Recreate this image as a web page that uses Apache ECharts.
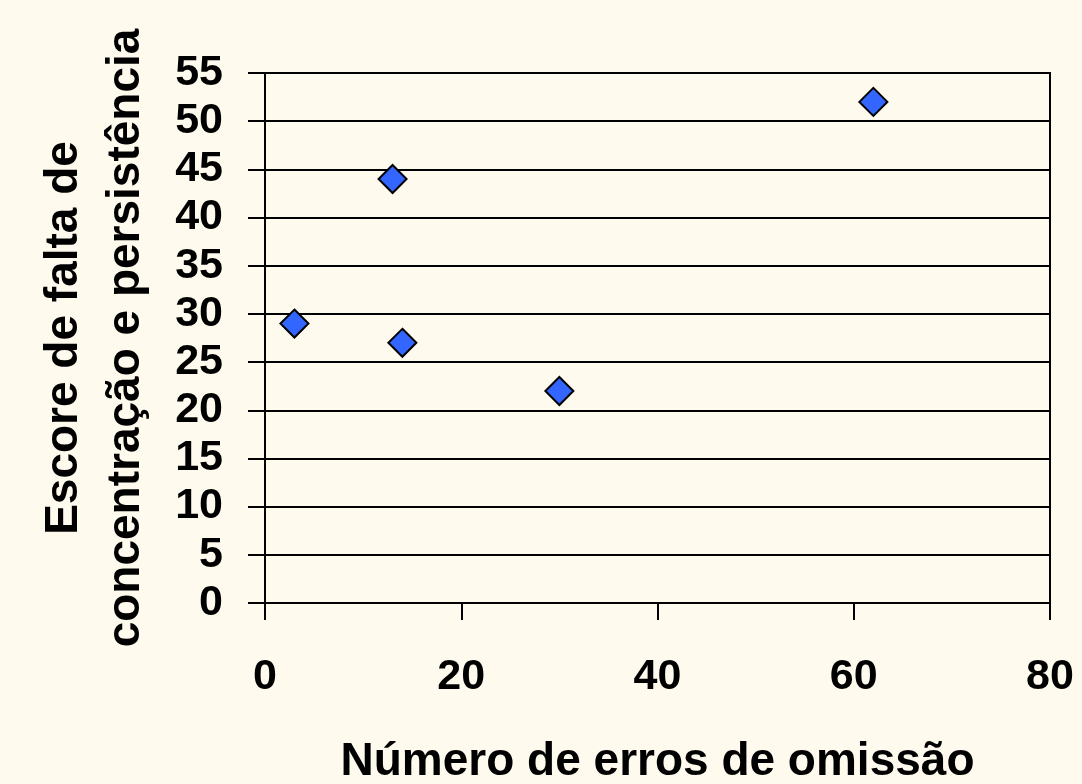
<!DOCTYPE html>
<html><head><meta charset="utf-8">
<script src="https://cdn.jsdelivr.net/npm/echarts@6/dist/echarts.min.js"></script>
<style>html,body{margin:0;padding:0;background:#FFFAEE;}#c{width:1082px;height:784px;}</style>
</head><body><div id="c"></div>
<script>
const xValues = [3, 13, 14, 30, 62];
const yValues = [29, 44, 27, 22, 52];
const xTitle = 'Número de erros de omissão';
const yTitle = 'Escore de falta de\nconcentração e persistência';

const chart = echarts.init(document.getElementById('c'));
const font = 'Liberation Sans, Arial, sans-serif';
chart.setOption({
  backgroundColor: '#FFFAEE',
  animation: false,
  grid: {left: 265, right: 32, top: 73, bottom: 181, containLabel: false, outerBoundsMode: 'none', show: true, borderColor: '#000', borderWidth: 2, backgroundColor: 'transparent'},
  xAxis: {
    type: 'value', min: 0, max: 80, interval: 20,
    name: xTitle, nameLocation: 'middle', nameGap: 136,
    nameTextStyle: {fontFamily: font, fontWeight: 'bold', fontSize: 46, color: '#000'},
    axisLine: {show: true, lineStyle: {color: '#000', width: 2}},
    axisTick: {show: true, inside: false, length: 17, lineStyle: {color: '#000', width: 2}},
    axisLabel: {fontFamily: font, fontWeight: 'bold', fontSize: 43, color: '#000', margin: 53},
    splitLine: {show: false}
  },
  yAxis: {
    type: 'value', min: 0, max: 55, interval: 5,
    name: yTitle, nameLocation: 'middle', nameGap: 108, nameRotate: 90,
    nameTextStyle: {fontFamily: font, fontWeight: 'bold', fontSize: 46, color: '#000', lineHeight: 62, align: 'center'},
    axisLine: {show: true, lineStyle: {color: '#000', width: 2}},
    axisTick: {show: true, inside: false, length: 17, lineStyle: {color: '#000', width: 2}},
    axisLabel: {fontFamily: font, fontWeight: 'bold', fontSize: 43, color: '#000', margin: 42},
    splitLine: {show: true, lineStyle: {color: '#000', width: 2}}
  },
  series: [{
    type: 'scatter',
    data: xValues.map((x, i) => [x, yValues[i]]),
    symbol: 'diamond', symbolSize: 28,
    itemStyle: {color: '#3366FF', borderColor: '#000', borderWidth: 2, opacity: 1}
  }]
});
</script></body></html>
